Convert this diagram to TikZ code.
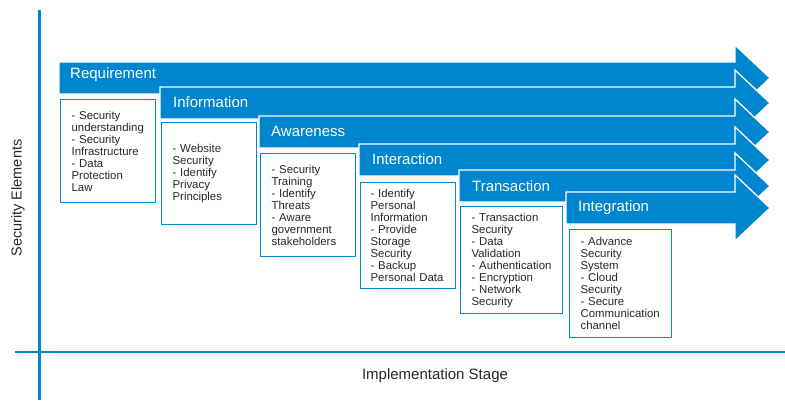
\documentclass[tikz,border=0pt]{standalone}
\usepackage{fontspec}
\setmainfont{Liberation Sans}
\definecolor{secblue}{RGB}{0,134,206}
\definecolor{txtgray}{RGB}{40,40,40}

\begin{document}
\begin{tikzpicture}[x=1pt,y=-1pt,
    band/.style={fill=secblue,draw=white,line width=1.3pt,line join=miter},
    head/.style={anchor=west,text=white,inner sep=0pt,font=\fontsize{15}{16}\selectfont},
    elem/.style={draw=secblue,fill=white,line width=1.2pt,anchor=north west,
                 align=left,inner xsep=11pt,inner ysep=0pt,text=txtgray,
                 font=\fontsize{11.4}{12}\selectfont},
    axis/.style={draw=secblue,line width=2.6pt}]
                            \useasboundingbox (0,0) rectangle (785,400);
                            % \draw[help lines,step=50] (0,0) grid (785,400);

                            % axes
                            \coordinate (y_top) at (39.5,10);
                            \coordinate (y_bot) at (39.5,400);
                            \coordinate (x_lft) at (15,352);
                            \coordinate (x_rgt) at (785,352);
                            \draw[axis] (y_top) -- (y_bot);
                            \draw[axis] (x_lft) -- (x_rgt);
                            \node[rotate=90,font=\fontsize{14.5}{15}\selectfont,text=txtgray] (y_lab) at (18,198) {Security Elements};
                            \node[font=\fontsize{15}{16}\selectfont,text=txtgray] (x_lab) at (435,376) {Implementation Stage};

                            % stage arrows, back to front
                            \draw[band] (59,62)  -- (735,62)  -- (735,45)  -- (770,78)  -- (735,111) -- (735,94)  -- (59,94)  -- cycle;
                            \draw[band] (160,87) -- (735,87)  -- (735,70)  -- (770,103) -- (735,136) -- (735,119) -- (160,119) -- cycle;
                            \draw[band] (259,116) -- (735,116) -- (735,99) -- (770,132) -- (735,165) -- (735,148) -- (259,148) -- cycle;
                            \draw[band] (359,144) -- (735,144) -- (735,127) -- (770,160) -- (735,193) -- (735,176) -- (359,176) -- cycle;
                            \draw[band] (459,170) -- (735,170) -- (735,153) -- (770,186) -- (735,219) -- (735,202) -- (459,202) -- cycle;
                            \draw[band] (566,192) -- (735,192) -- (735,175) -- (770,208) -- (735,241) -- (735,224) -- (566,224) -- cycle;

                            \node[head] (h_1) at (70,75)   {Requirement};
                            \node[head] (h_2) at (173,102) {Information};
                            \node[head] (h_3) at (271,131) {Awareness};
                            \node[head] (h_4) at (372,159) {Interaction};
                            \node[head] (h_5) at (472,186) {Transaction};
                            \node[head] (h_6) at (578,208) {Integration};

                            % element boxes under each stage
                            \node[elem,text width=73pt,minimum height=103pt] (e_1) at (60,99)
                                {- Security\\understanding\\- Security\\Infrastructure\\- Data\\Protection\\Law};
                            \node[elem,text width=73pt,minimum height=102pt] (e_2) at (161,122)
                                {- Website\\Security\\- Identify\\Privacy\\Principles};
                            \node[elem,text width=73pt,minimum height=103pt] (e_3) at (260,153)
                                {- Security\\Training\\- Identify\\Threats\\- Aware\\government\\stakeholders};
                            \node[elem,text width=75pt,inner xsep=10pt,minimum height=106pt] (e_4) at (360,182)
                                {- Identify\\Personal\\Information\\- Provide\\Storage\\Security\\- Backup\\Personal Data};
                            \node[elem,text width=80pt,minimum height=107pt] (e_5) at (460,206)
                                {- Transaction\\Security\\- Data\\Validation\\- Authentication\\- Encryption\\- Network\\Security};
                            \node[elem,text width=80pt,minimum height=108pt] (e_6) at (569,229)
                                {- Advance\\Security\\System\\- Cloud\\Security\\- Secure\\Communication\\channel};
                        \end{tikzpicture}
\end{document}
